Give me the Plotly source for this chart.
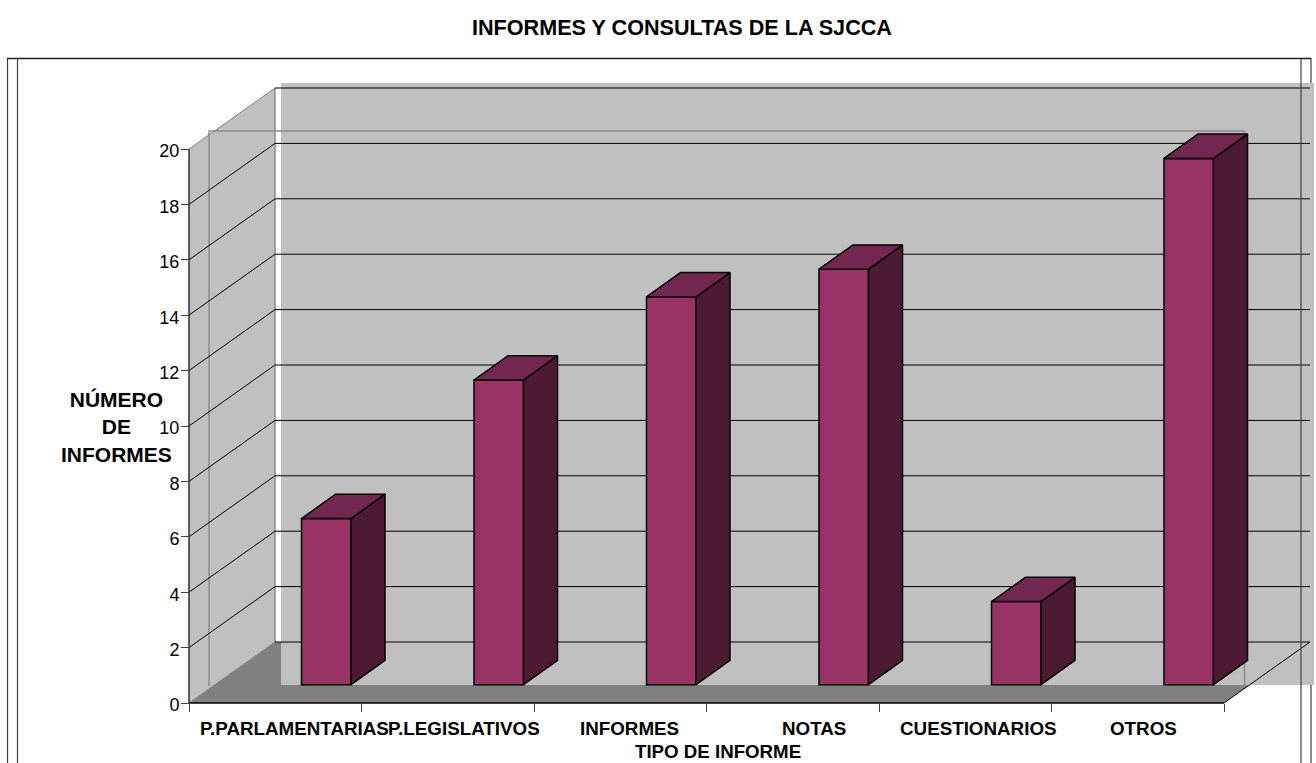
import plotly.graph_objects as go

categories = ["P.PARLAMENTARIAS", "P.LEGISLATIVOS", "INFORMES", "NOTAS", "CUESTIONARIOS", "OTROS"]
values = [6, 11, 14, 15, 3, 19]
y_ticks = [0, 2, 4, 6, 8, 10, 12, 14, 16, 18, 20]
title_text = "INFORMES Y CONSULTAS DE LA SJCCA"
y_title = "NÚMERO<br>DE<br>INFORMES"
x_title = "TIPO DE INFORME"

W, H = 1316, 763
X0, Y0 = 189.0, 703.0          # pixel of (0 categories, value 0)
XS, YS = 172.5, 27.7           # pixels per category / per value unit
FONT = "Liberation Sans, Arial, sans-serif"

def ux(p):  # horizontal pixels to category units
    return p / XS
def uy(p):  # vertical pixels to value units
    return p / YS
def px(p):  # absolute pixel x to data
    return (p - X0) / XS
def py(p):  # absolute pixel y to data
    return (Y0 - p) / YS

DX, DY = ux(86), uy(61)        # depth of the chart box
BDX, BDY = ux(34), uy(24.3)    # depth of each bar
BASE = uy(18.3)                # bars stand forward on the floor
BAR_W = ux(49.5)
BAR_C = ux(137.25)

n = len(categories)
vmax = max(y_ticks)
GRAY_WALL, GRAY_FLOOR = "#C0C0C0", "#808080"
FRONT, TOP, SIDE = "#993366", "#732650", "#4D1A33"

def path(points):
    return "M " + " L ".join(f"{x},{y}" for x, y in points) + " Z"
def line(x0, y0, x1, y1, color="#000000", width=1):
    return dict(type="line", xref="x", yref="y", x0=x0, y0=y0, x1=x1, y1=y1, layer="below",
                line=dict(color=color, width=width))
def poly(points, fill):
    return dict(type="path", xref="x", yref="y", path=path(points), layer="below",
                fillcolor=fill, line=dict(width=0))

shapes = []
# outer frame, the right one is hidden behind the wall plate
shapes.append(line(px(1311), py(58), px(1311), py(H), "#404040", 1.2))
# floor
shapes.append(poly([(0, 0), (DX, DY), (n + DX, DY), (n, 0)], GRAY_FLOOR))
# back wall plate (offset from the box)
shapes.append(dict(type="rect", xref="x", yref="y", x0=px(281), x1=px(1314), y0=py(685), y1=py(83), layer="below",
                   fillcolor=GRAY_WALL, line=dict(width=0)))
# left wall
shapes.append(poly([(0, 0), (DX, DY), (DX, vmax + DY), (0, vmax)], GRAY_WALL))
# ghost outline
for a, b, c, d in [(px(209), py(686), px(209), py(131)), (px(209), py(131), px(1244.5), py(131)),
                   (px(1244.5), py(131), px(1244.5), py(685))]:
    shapes.append(line(a, b, c, d, "#8C8C8C", 1.5))
shapes.append(line(DX, DY, DX, vmax + DY, "#8C8C8C", 1.5))
# gridlines
for t in y_ticks:
    edge = t in (0, vmax)
    c = GRAY_FLOOR if edge else "#000000"
    shapes.append(line(0, t, DX, t + DY, c, 1))
    shapes.append(line(DX, t + DY, n + DX, t + DY, "#000000", 1))
# floor front right edge and axis lines
shapes.append(line(n, 0, n + DX, DY, "#000000", 1))
shapes.append(line(0, 0, 0, vmax, "#303030", 1.5))
shapes.append(line(0, 0, n, 0, "#000000", 1.5))
# remaining frames
for p in (7.5, 17.5, 1301):
    shapes.append(line(px(p), py(58), px(p), py(H), "#404040", 1.2))
shapes.append(line(px(7), py(58.5), px(1311), py(58.5), "#202020", 1.5))

fig = go.Figure()
centers = [i + BAR_C for i in range(n)]
fig.add_trace(go.Bar(x=centers, y=values, base=[BASE] * n, width=[BAR_W] * n,
                     marker=dict(color=FRONT, line=dict(color="#000000", width=1.5)),
                     hoverinfo="skip", showlegend=False))
for c, v in zip(centers, values):
    l, r, b, t = c - BAR_W / 2, c + BAR_W / 2, BASE, BASE + v
    fig.add_trace(go.Scatter(x=[r, r + BDX, r + BDX, r, r], y=[b, b + BDY, t + BDY, t, b], mode="lines",
                             fill="toself", fillcolor=SIDE, line=dict(color="#000000", width=1.5),
                             hoverinfo="skip", showlegend=False))
    fig.add_trace(go.Scatter(x=[l, r, r + BDX, l + BDX, l], y=[t, t, t + BDY, t + BDY, t], mode="lines",
                             fill="toself", fillcolor=TOP, line=dict(color="#000000", width=1.5),
                             hoverinfo="skip", showlegend=False))
# invisible trace that keeps the tick-label axis alive (labels sit 2 px under their ticks)
fig.add_trace(go.Scatter(x=[0], y=[0], yaxis="y2", mode="markers", marker=dict(opacity=0),
                         hoverinfo="skip", showlegend=False))

label_left = [198, 386, 578, 780, 898, 1108]
annotations = [dict(x=px(p), y=py(728), xref="x", yref="y", text=f"<b>{c}</b>", showarrow=False,
                    xanchor="left", yanchor="middle", font=dict(family=FONT, size=18.8, color="#000000"))
               for c, p in zip(categories, label_left)]
annotations.append(dict(x=px(718), y=py(751.5), xref="x", yref="y", text=f"<b>{x_title}</b>", showarrow=False,
                        font=dict(family=FONT, size=18.7, color="#000000")))
annotations.append(dict(x=px(116.5), y=py(426.5), xref="x", yref="y", text=f"<b>{y_title}</b>", showarrow=False,
                        align="center", font=dict(family=FONT, size=21, color="#000000")))
annotations.append(dict(x=px(682), y=py(27), xref="x", yref="y", text=f"<b>{title_text}</b>", showarrow=False,
                        font=dict(family=FONT, size=21.6, color="#000000")))

LABEL_SHIFT = uy(2)
fig.update_layout(
    width=W, height=H, margin=dict(l=0, r=0, t=0, b=0, pad=0), autosize=False,
    paper_bgcolor="#FFFFFF", plot_bgcolor="#FFFFFF", showlegend=False,
    shapes=shapes, annotations=annotations, barmode="overlay",
    xaxis=dict(range=[px(0), px(W)], domain=[0, 1], anchor="free", position=(H - Y0) / H,
               tickvals=list(range(n + 1)), ticktext=[""] * (n + 1), ticks="outside", ticklen=8,
               tickcolor="#404040", tickwidth=1, showgrid=False, zeroline=False, showline=False),
    yaxis=dict(range=[py(H), py(0)], domain=[0, 1], anchor="free", position=X0 / W,
               tickvals=y_ticks, ticktext=[""] * len(y_ticks), ticks="outside", ticklen=8,
               tickcolor="#404040", tickwidth=1,
               showgrid=False, zeroline=False, showline=False),
    yaxis2=dict(range=[py(H) + LABEL_SHIFT, py(0) + LABEL_SHIFT], overlaying="y", anchor="free", position=X0 / W,
                side="left", tickvals=y_ticks, ticks="outside", ticklen=6, tickcolor="rgba(0,0,0,0)",
                showgrid=False, zeroline=False, showline=False,
                tickfont=dict(family=FONT, size=18, color="#000000")),
)
fig.write_html("out.html", post_script="document.body.style.margin='0';document.body.style.overflow='hidden';",
               config=dict(displayModeBar=False))
